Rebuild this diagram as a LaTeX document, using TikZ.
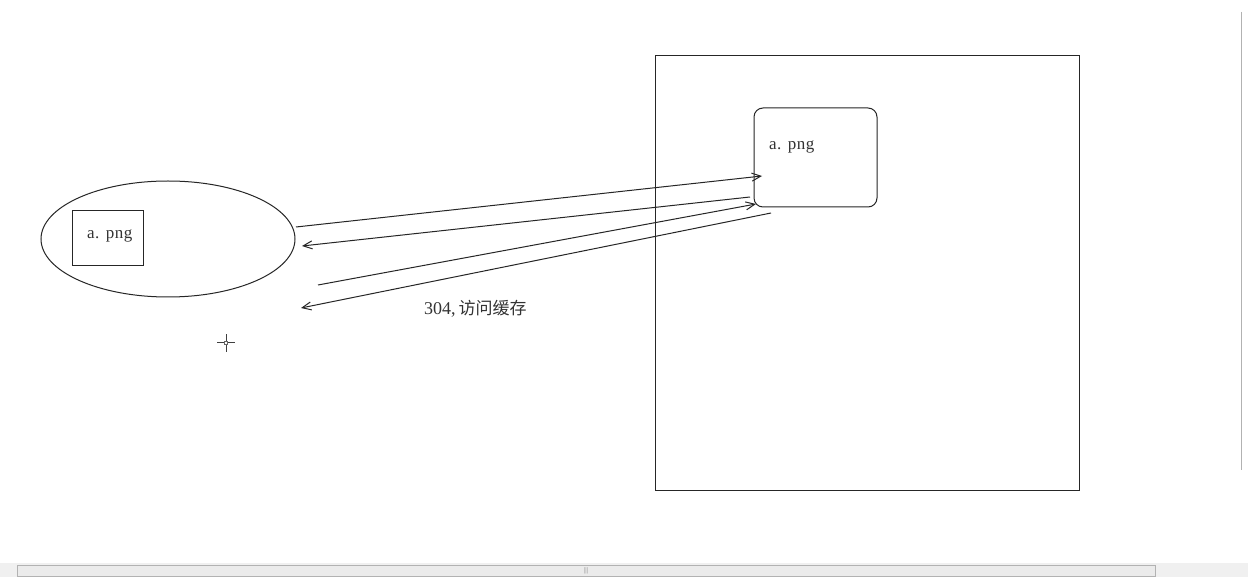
\documentclass[tikz,border=0pt]{standalone}
\usepackage{fontspec}
\setmainfont{Liberation Serif}
\newfontfamily\lblfont[LetterSpace=3]{Liberation Serif}
\newfontfamily\cjk{Noto Sans CJK SC}
\usetikzlibrary{arrows.meta,shapes.geometric}
\begin{document}
\begin{tikzpicture}[x=1pt,y=-1pt,
  line/.style={draw=black!85,line width=1pt},
  conn/.style={line,-{Straight Barb[length=9pt,width=8pt]}},
  lbl/.style={font=\lblfont\fontsize{17}{19}\selectfont,text=black!80,inner sep=0},
  ui/.style={draw=black!30,fill=black!8,line width=0.6pt}]
\useasboundingbox (0,0) rectangle (1248,577);
\fill[white] (0,0) rectangle (1248,577);
% UI frame (scroll bars)
\draw[black!30,line width=0.8pt] (1241,12) -- (1241,470);
\fill[black!6] (0,563) rectangle (1248,577);
\draw[ui] (17,565) rectangle (1155,576);
\node[inner sep=0,text=black!50,font=\fontsize{7}{7}\selectfont] (thumb) at (586,571) {|||};
% client
\node[ellipse,line,minimum width=254pt,minimum height=116pt,inner sep=0] (client) at (168,239) {};
\node[line,minimum width=71pt,minimum height=55pt,inner sep=0] (cached) at (107.5,238.5) {};
\node[lbl,anchor=base west] (cachedtxt) at (87,239) {a. png};
% server
\node[line,minimum width=424pt,minimum height=434pt,inner sep=0] (server) at (867,273) {};
\node[line,rounded corners=9pt,minimum width=123pt,minimum height=99pt,inner sep=0] (file) at (815.5,157.5) {};
\node[lbl,anchor=base west] (filetxt) at (769,150) {a. png};
% endpoints
\coordinate (r1s) at (296,227);
\coordinate (r1e) at (762,176);
\coordinate (a1s) at (750,197);
\coordinate (a1e) at (302,246);
\coordinate (r2s) at (318,285);
\coordinate (r2e) at (756,204);
\coordinate (a2s) at (771,213);
\coordinate (a2e) at (301,308);
\draw[conn] (r1s) -- (r1e);
\draw[conn] (a1s) -- (a1e);
\draw[conn] (r2s) -- (r2e);
\draw[conn] (a2s) -- (a2e);
\node[font=\fontsize{18}{20}\selectfont,text=black!80,anchor=base west,inner sep=0] (note) at (424,315) {304,\,{\cjk\fontsize{17}{19}\selectfont 访问缓存}};
% cursor
\coordinate (cur) at (226,343);
\draw[black!75,line width=1pt] ([xshift=-9pt]cur) -- ([xshift=9pt]cur);
\draw[black!75,line width=1pt] ([yshift=-9pt]cur) -- ([yshift=9pt]cur);
\fill[black!60] ([shift={(-2,-2)}]cur) rectangle ([shift={(2,2)}]cur);
\fill[white] ([shift={(-1,-1)}]cur) rectangle ([shift={(1,1)}]cur);
\end{tikzpicture}
\end{document}
